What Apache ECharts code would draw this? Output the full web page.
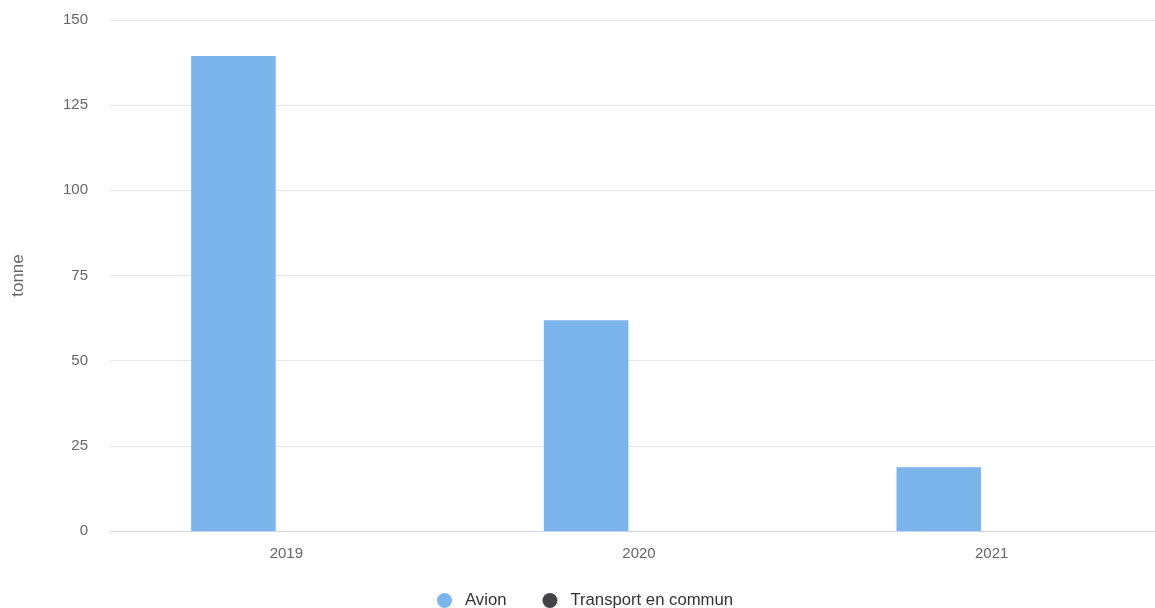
<!DOCTYPE html>
<html>
<head>
<meta charset="utf-8">
<script src="https://cdn.jsdelivr.net/npm/echarts@6/dist/echarts.min.js"></script>
<style>html,body{margin:0;padding:0;background:#fff;}#c{width:1155px;height:608px;}</style>
</head>
<body>
<div id="c"></div>
<script>
const categories = ['2019', '2020', '2021'];
const avion = [139.4, 61.9, 18.7];
const transportEnCommun = [0, 0, 0];
const seriesNames = ['Avion', 'Transport en commun'];
const yTicks = { min: 0, max: 150, interval: 25 };

const FONT = '"Liberation Sans", Arial, Helvetica, sans-serif';
const chart = echarts.init(document.getElementById('c'), null, { renderer: 'canvas' });
chart.setOption({
  animation: false,
  color: ['#7cb5ec', '#434348'],
  grid: { left: 110, width: 1058, top: 20, height: 511, containLabel: false, outerBoundsMode: 'none' },
  legend: {
    bottom: -6,
    left: 432,
    icon: 'circle',
    itemWidth: 15,
    itemHeight: 15,
    itemGap: 36,
    textStyle: { fontFamily: FONT, fontSize: 16.7, color: '#333333', padding: [0, 0, 0, 8] },
    data: seriesNames
  },
  xAxis: {
    type: 'category',
    data: categories,
    axisLine: { show: true, lineStyle: { color: '#ccd6eb', width: 1 } },
    axisTick: { show: false },
    axisLabel: { color: '#666666', fontSize: 15, fontFamily: FONT, margin: 15 },
    splitLine: { show: false }
  },
  yAxis: {
    type: 'value',
    min: yTicks.min,
    max: yTicks.max,
    interval: yTicks.interval,
    name: 'tonne',
    nameLocation: 'middle',
    nameGap: 83,
    nameRotate: 90,
    nameTextStyle: { color: '#666666', fontSize: 17, fontFamily: FONT },
    axisLine: { show: false },
    axisTick: { show: false },
    axisLabel: { color: '#666666', fontSize: 15, fontFamily: FONT, margin: 22 },
    splitLine: { lineStyle: { color: '#e6e6e6', width: 1 } }
  },
  series: [
    { name: seriesNames[0], type: 'bar', data: avion, barWidth: 84.6, barGap: '25%' },
    { name: seriesNames[1], type: 'bar', data: transportEnCommun, barWidth: 84.6, barGap: '25%' }
  ]
});
</script>
</body>
</html>
